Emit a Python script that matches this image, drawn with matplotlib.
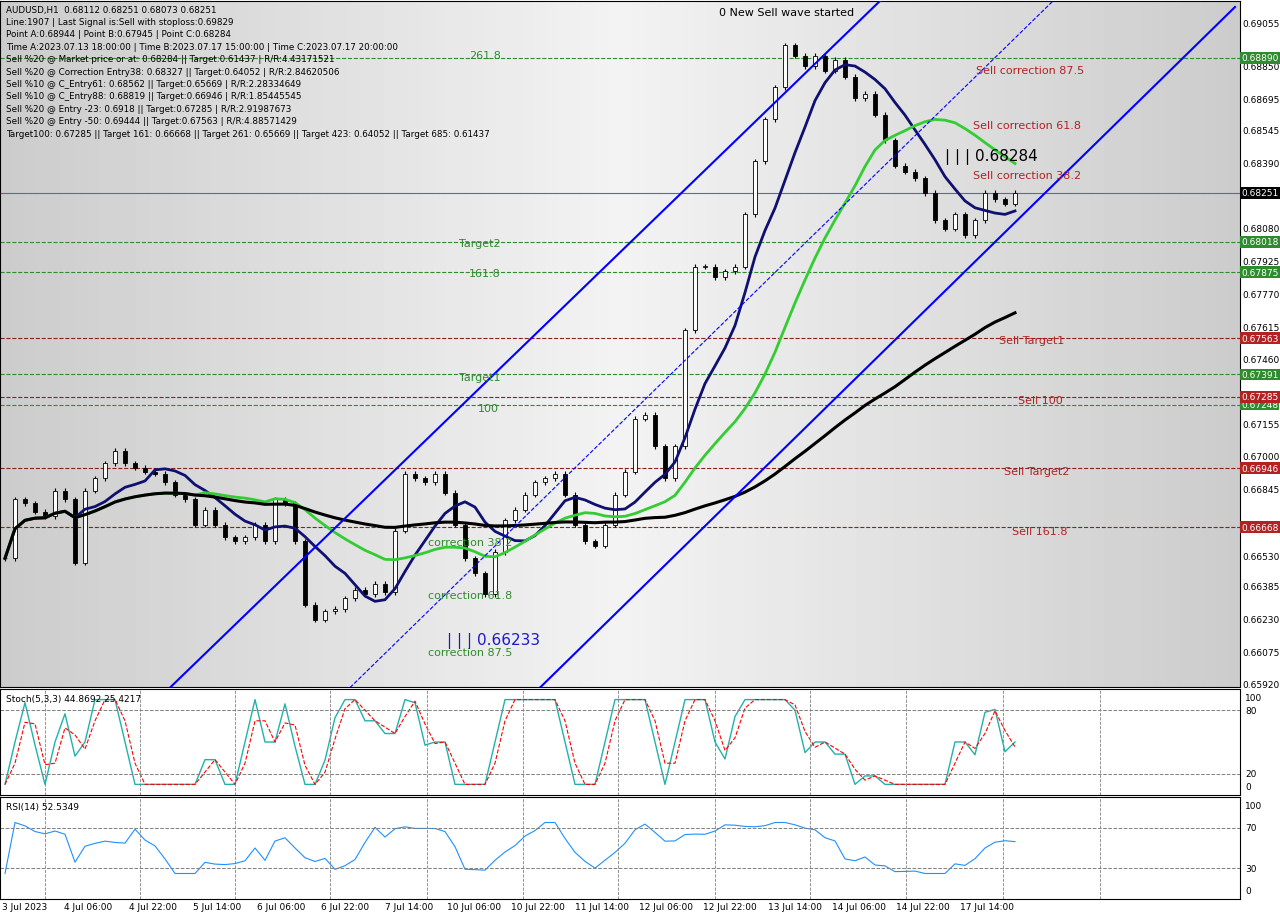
import numpy as np, pandas as pd
import matplotlib
matplotlib.use("Agg")
import matplotlib.pyplot as plt

closes = [0.6652,0.6680,0.6678,0.6674,0.6672,0.6684,0.6680,0.6650,0.6684,0.6690,
0.6697,0.6703,0.6697,0.6695,0.6693,0.6692,0.6688,0.6682,0.6680,0.6668,
0.6675,0.6668,0.6662,0.6660,0.6662,0.6668,0.6660,0.6680,0.6678,0.6660,
0.6630,0.6623,0.6627,0.6628,0.6633,0.6637,0.6635,0.6640,0.6636,0.6665,
0.6692,0.6690,0.6688,0.6692,0.6683,0.6668,0.6652,0.6645,0.6635,0.6655,
0.6670,0.6675,0.6682,0.6688,0.6690,0.6692,0.6682,0.6668,0.6660,0.6658,
0.6668,0.6682,0.6693,0.6718,0.6720,0.6705,0.6690,0.6705,0.6760,0.6790,
0.6790,0.6785,0.6788,0.6790,0.6815,0.6840,0.6860,0.6875,0.6895,0.6890,
0.6885,0.6890,0.6883,0.6888,0.6880,0.6870,0.6872,0.6862,0.6850,0.6838,
0.6835,0.6832,0.6825,0.6812,0.6808,0.6815,0.6805,0.6812,0.6825,0.6822,
0.6820,0.6825]
time_labels = ["3 Jul 2023","4 Jul 06:00","4 Jul 22:00","5 Jul 14:00","6 Jul 06:00","6 Jul 22:00",
"7 Jul 14:00","10 Jul 06:00","10 Jul 22:00","11 Jul 14:00","12 Jul 06:00","12 Jul 22:00",
"13 Jul 14:00","14 Jul 06:00","14 Jul 22:00","17 Jul 14:00"]
price_ticks = [0.69055,0.68850,0.68695,0.68545,0.68390,0.68080,0.67925,0.67770,0.67615,0.67460,
0.67305,0.67155,0.67000,0.66845,0.66690,0.66530,0.66385,0.66230,0.66075,0.65920]
green_levels = [0.68890,0.68018,0.67875,0.67391,0.67248]
red_levels = [0.67563,0.67285,0.66946,0.66668]
current = 0.68251
info = ["AUDUSD,H1  0.68112 0.68251 0.68073 0.68251",
"Line:1907 | Last Signal is:Sell with stoploss:0.69829",
"Point A:0.68944 | Point B:0.67945 | Point C:0.68284",
"Time A:2023.07.13 18:00:00 | Time B:2023.07.17 15:00:00 | Time C:2023.07.17 20:00:00",
"Sell %20 @ Market price or at: 0.68284 || Target:0.61437 | R/R:4.43171521",
"Sell %20 @ Correction Entry38: 0.68327 || Target:0.64052 | R/R:2.84620506",
"Sell %10 @ C_Entry61: 0.68562 || Target:0.65669 | R/R:2.28334649",
"Sell %10 @ C_Entry88: 0.68819 || Target:0.66946 | R/R:1.85445545",
"Sell %20 @ Entry -23: 0.6918 || Target:0.67285 | R/R:2.91987673",
"Sell %20 @ Entry -50: 0.69444 || Target:0.67563 | R/R:4.88571429",
"Target100: 0.67285 || Target 161: 0.66668 || Target 261: 0.65669 || Target 423: 0.64052 || Target 685: 0.61437"]

c = pd.Series(closes)
x = 1.25 + np.arange(len(closes))*2.5   # hours (4 px per hour)
o = c.shift(1).fillna(c.iloc[0])
W, H = 1280, 920
fig = plt.figure(figsize=(12.8, 9.2), dpi=100)
def ax_px(l, t, w, h):
    return fig.add_axes([l/W, 1-(t+h)/H, w/W, h/H])
XMAX = 1240/4
ax = ax_px(0, 2, 1240, 686)
ylo, yhi = 0.65920-0.0000474*2, 0.69055+0.0000474*22
ax.imshow(np.outer(np.ones(10), np.r_[np.linspace(0.80,0.95,50), np.linspace(0.95,0.80,50)]),
          extent=[0, XMAX, ylo, yhi], aspect='auto', cmap='gray', vmin=0, vmax=1, zorder=0)
ax.set_xlim(0, XMAX); ax.set_ylim(ylo, yhi)
for lv in green_levels:
    ax.axhline(lv, color='#2e8b2e', ls='--', lw=0.8)
for lv in red_levels:
    ax.axhline(lv, color='#8b2020', ls='--', lw=0.8)
ax.axhline(current, color='#3b6fd6', lw=0.8)
for xi, oi, ci in zip(x, o, c):
    hi, lo = max(oi, ci)+0.00012, min(oi, ci)-0.00012
    ax.vlines(xi, lo, hi, color='black', lw=0.8, zorder=3)
    ax.bar(xi, abs(ci-oi) or 0.00003, 1.1, bottom=min(oi, ci), color='white' if ci >= oi else 'black',
           edgecolor='black', lw=0.6, zorder=4)
ax.plot(x, c.rolling(8, min_periods=1).mean(), color='#101070', lw=2, zorder=5)
ax.plot(x, c.rolling(20, min_periods=1).mean(), color='#33cc33', lw=2, zorder=5)
ax.plot(x, c.rolling(60, min_periods=1).mean(), color='black', lw=2.2, zorder=5)
def P(y): return 0.69055-(y-24)*0.0000474
for (x0,y0,x1,y1,ls,lw) in [(170,688,882,0,'-',1.5),(540,688,1235,8,'-',1.5),(350,688,1055,0,'--',0.8)]:
    ax.plot([x0/4,x1/4],[P(y0),P(y1)], color='blue', ls=ls, lw=lw, zorder=6)
lab = [(485,56,"261.8",'#2e8b2e'),(480,244,"Target2",'#2e8b2e'),(485,274,"161.8",'#2e8b2e'),
       (480,378,"Target1",'#2e8b2e'),(488,409,"100",'#2e8b2e'),
       (1030,71,"Sell correction 87.5",'#b22222'),(1027,126,"Sell correction 61.8",'#b22222'),
       (1027,176,"Sell correction 38.2",'#b22222'),(1032,341,"Sell Target1",'#b22222'),
       (1040,401,"Sell 100",'#b22222'),(1037,472,"Sell Target2",'#b22222'),(1040,532,"Sell 161.8",'#b22222'),
       (470,543,"correction 38.2",'#2e8b2e'),(470,595,"correction 61.8",'#2e8b2e'),(470,652,"correction 87.5",'#2e8b2e')]
for px, py, t, col in lab:
    ax.text(px/4, P(py), t, color=col, fontsize=8, ha='center', va='center', zorder=7)
ax.text(787/4, P(13), "0 New Sell wave started", fontsize=8, ha='center', va='center', zorder=7)
ax.text(945/4, P(157), "| | | 0.68284", fontsize=11, va='center', zorder=7)
ax.text(447/4, P(640), "| | | 0.66233", fontsize=11, color='#1a1acc', va='center', zorder=7)
for i, t in enumerate(info):
    ax.text(1.5, P(10+i*12.4), t, fontsize=6.3, va='center', zorder=8, color='black')
ax.set_xticks([]); ax.set_yticks([])
def ypx(lv): return 1-(2+(yhi-lv)/(yhi-ylo)*686)/H
for lv in price_ticks:
    if any(abs(lv-b) < 0.00028 for b in green_levels+red_levels+[current]):
        continue
    fig.text(1242/W, ypx(lv), f"{lv:.5f}", fontsize=6.5, va='center')
def box(lv, col):
    fig.text(1241/W, ypx(lv), f"{lv:.5f}", fontsize=6.5, va='center', color='white',
             bbox=dict(boxstyle='square,pad=0.15', fc=col, ec='none'))
for lv in green_levels: box(lv, '#2e8b2e')
for lv in red_levels: box(lv, '#b22222')
box(current, 'black')

vgrid = [45,140,235,330,427,523,618,715,810,906,1003,1100]
hh = c.rolling(3, min_periods=1).max(); ll = c.rolling(3, min_periods=1).min()
k = (10 + (c-ll)/(hh-ll+1e-9)*80).rolling(2, min_periods=1).mean()
d = k.rolling(2, min_periods=1).mean()
a2 = ax_px(0, 690, 1240, 106)
a2.plot(x, k, color='#20b2aa', lw=1); a2.plot(x, d, color='red', ls='--', lw=0.8)
a2.set_ylim(0, 100)
a2.text(1.5, 91, "Stoch(5,3,3) 44.8692 25.4217", fontsize=6.5, va='center')
delta = c.diff().fillna(0)
up = delta.clip(lower=0).rolling(6, min_periods=1).mean(); dn = (-delta.clip(upper=0)).rolling(6, min_periods=1).mean()
rsi = 100 - 100/(1+up/(dn+1e-9))
rsi = 50 + (rsi-50)*0.5
a3 = ax_px(0, 798, 1240, 102)
a3.plot(x, rsi, color='#1e90ff', lw=0.8); a3.set_ylim(0, 100)
a3.text(1.5, 91, "RSI(14) 52.5349", fontsize=6.5, va='center')
for a, lvls, yt in [(a2, [80, 20], [100, 80, 20, 0]), (a3, [70, 30], [100, 70, 30, 0])]:
    a.set_xlim(0, XMAX)
    for lv in lvls: a.axhline(lv, color='gray', ls='--', lw=0.7)
    for v in vgrid: a.axvline(v/4, color='gray', ls='--', lw=0.6)
    a.set_xticks([]); a.set_yticks([])
    y0 = a.get_position().y0; h = a.get_position().height
    for t in yt:
        yy = y0 + (t/100*h if t not in (0, 100) else (0.92*h if t == 100 else 0.08*h))
        fig.text(1245/W, yy, str(t), fontsize=6.5, va='center')
tx = [25,88,153,217,281,345,409,474,538,602,666,730,795,859,923,987]
for px, t in zip(tx, time_labels):
    fig.text(px/W, 1-908/H, t, fontsize=6.5, ha='center', va='center')
fig.savefig("out.png", facecolor='white')
